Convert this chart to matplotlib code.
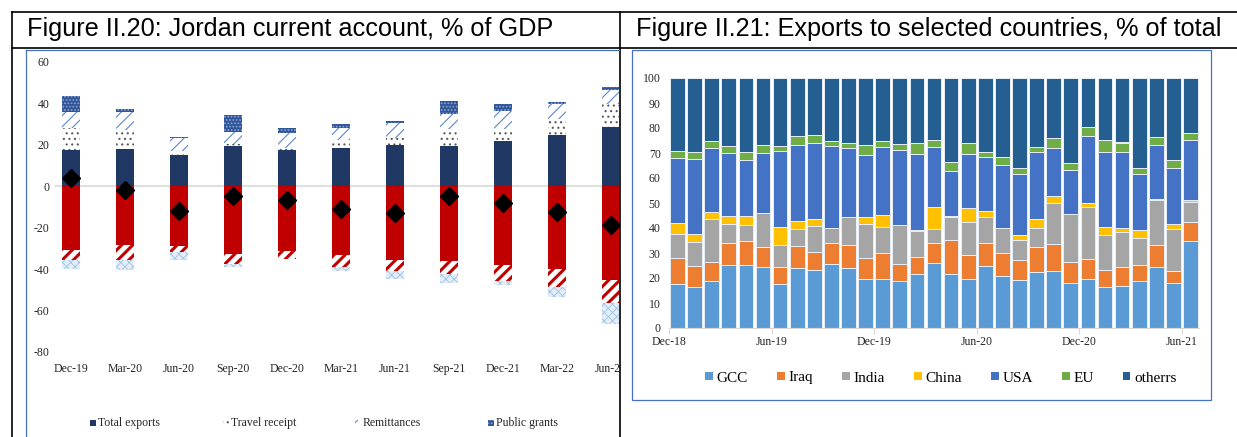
import numpy as np
import matplotlib.pyplot as plt
from matplotlib.patches import Rectangle, Patch
from matplotlib.lines import Line2D

W, H = 1237, 437
plt.rcParams['font.family'] = ['Liberation Serif', 'DejaVu Serif']
plt.rcParams['axes.unicode_minus'] = False
plt.rcParams['hatch.linewidth'] = 0.8

# ---- Figure II.20 data (% of GDP) ----
quarters = ["Dec-19", "Mar-20", "Jun-20", "Sep-20", "Dec-20", "Mar-21",
            "Jun-21", "Sep-21", "Dec-21", "Mar-22", "Jun-22"]
total_exports = [17.4, 18.0, 15.1, 19.5, 17.4, 18.7, 20.1, 19.3, 21.9, 25.0, 28.7]
travel_receipt = [10.9, 9.0, 2.0, 1.1, 1.3, 3.5, 3.4, 8.5, 5.6, 7.7, 11.2]
remittances = [7.6, 8.9, 6.0, 5.6, 7.1, 6.1, 7.1, 7.2, 8.7, 7.2, 6.5]
public_grants = [7.6, 1.6, 0.6, 8.4, 2.5, 1.7, 1.0, 6.4, 3.7, 0.8, 1.3]
imports = [-30.6, -28.5, -28.8, -32.5, -31.2, -33.0, -35.4, -36.1, -38.2, -40.1, -45.4]
services_payments = [-4.8, -7.2, -2.9, -4.9, -3.7, -6.0, -5.5, -6.2, -7.3, -8.7, -11.0]
income_payments = [-4.4, -4.6, -3.7, -1.6, -0.3, -2.1, -3.9, -4.2, -2.3, -4.7, -9.9]
current_account = [4.0, -1.9, -11.9, -4.7, -6.8, -10.8, -13.0, -4.7, -7.9, -12.4, -18.8]

# ---- Figure II.21 data (% of total exports) ----
months = ["Dec-18", "Jun-19", "Dec-19", "Jun-20", "Dec-20", "Jun-21"]
gcc = [17.7, 16.6, 18.8, 25.4, 25.4, 24.4, 17.7, 24.0, 23.3, 25.7, 24.0, 19.6, 19.6, 18.8, 21.6, 26.0,
       21.8, 19.6, 25.0, 21.0, 19.3, 22.3, 23.0, 18.2, 19.8, 16.6, 17.0, 19.0, 24.4, 18.0, 34.8]
iraq = [10.2, 8.3, 7.8, 8.6, 9.5, 8.0, 6.7, 8.9, 7.2, 8.3, 9.3, 8.4, 10.6, 6.7, 6.8, 8.2,
        13.5, 9.6, 9.1, 9.2, 8.0, 10.0, 10.8, 8.4, 7.9, 6.8, 7.3, 6.2, 8.8, 5.0, 7.6]
india = [9.8, 9.7, 17.0, 7.7, 6.4, 13.6, 8.8, 6.9, 10.5, 6.0, 11.2, 13.8, 10.4, 15.7, 10.6, 5.3,
         9.3, 13.2, 10.5, 9.7, 8.0, 7.7, 16.2, 19.0, 20.6, 13.8, 14.3, 11.0, 18.0, 16.6, 8.0]
china = [4.3, 2.9, 3.0, 3.1, 3.7, 0.2, 7.3, 2.9, 2.7, 0.1, 0.1, 2.8, 4.7, 0.1, 0.3, 9.1,
         0.1, 5.6, 2.1, 0.3, 2.0, 3.6, 3.0, 0.1, 1.9, 3.4, 1.6, 3.1, 0.5, 2.1, 0.7]
usa = [26.2, 30.1, 25.4, 25.4, 22.4, 24.0, 30.2, 30.4, 30.3, 32.7, 27.5, 24.7, 27.1, 30.0, 30.5, 24.0,
       18.2, 21.8, 21.7, 25.1, 24.4, 26.8, 19.2, 17.6, 26.8, 30.0, 30.1, 22.3, 21.5, 22.3, 24.2]
eu = [2.7, 3.0, 3.0, 2.8, 3.1, 3.0, 2.1, 3.6, 3.2, 1.9, 2.0, 4.0, 2.6, 2.3, 4.2, 2.7,
      3.7, 4.2, 2.1, 3.0, 2.2, 2.0, 3.8, 2.9, 3.4, 4.7, 3.9, 2.6, 3.2, 3.3, 2.9]
others = [29.1, 29.4, 25.0, 27.0, 29.5, 26.8, 27.2, 23.3, 22.8, 25.3, 26.0, 26.7, 25.0, 26.4, 26.0, 24.7,
          33.4, 26.0, 29.5, 31.7, 36.1, 27.6, 24.0, 33.8, 19.6, 24.7, 25.8, 35.8, 23.6, 32.7, 21.8]


def fx(x):
    return x / W


def fy(y):
    return 1 - y / H


def hatch_lw(patches, lw):
    for p in patches:
        if hasattr(p, 'set_hatch_linewidth'):
            p.set_hatch_linewidth(lw)


fig = plt.figure(figsize=(W / 100, H / 100), dpi=100)

# ================= left chart =================
axL = fig.add_axes([fx(55), fy(352), fx(619) - fx(55), fy(62) - fy(352)])
xl = np.arange(len(quarters))
bw = 0.34
pos_styles = [
    (total_exports, dict(facecolor='#1F3864', edgecolor='#1F3864'), None),
    (travel_receipt, dict(facecolor='white', edgecolor='#595959', hatch='...'), None),
    (remittances, dict(facecolor='white', edgecolor='#5B86D0', hatch='///'), 0.8),
    (public_grants, dict(facecolor='#2F5597', edgecolor='#8FAADC', hatch='.....'), None),
]
base = np.zeros(len(quarters))
for vals, st, hl in pos_styles:
    bars = axL.bar(xl, vals, bw, bottom=base, linewidth=0, **st)
    if hl:
        hatch_lw(bars.patches, hl)
    base += np.array(vals)

neg_styles = [
    (imports, dict(facecolor='#C00000', edgecolor='#C00000'), None),
    (services_payments, dict(facecolor='white', edgecolor='#C00000', hatch='///'), 2.2),
    (income_payments, dict(facecolor='#E3EEF8', edgecolor='#9DC3E6', hatch='xxxx'), 0.6),
]
base = np.zeros(len(quarters))
for vals, st, hl in neg_styles:
    bars = axL.bar(xl, vals, bw, bottom=base, linewidth=0, **st)
    if hl:
        hatch_lw(bars.patches, hl)
    base += np.array(vals)

axL.axhline(0, color='#D9D9D9', lw=1.2, zorder=0.5)
axL.plot(xl, current_account, 'D', color='black', ms=9, ls='none', zorder=5)
axL.set_xlim(-(71 - 55) / 54, (619 - 71) / 54)
axL.set_ylim(-80, 60)
axL.set_yticks(np.arange(-80, 61, 20))
axL.set_xticks(xl)
axL.set_xticklabels(quarters)
axL.tick_params(axis='both', length=0, labelsize=8.5, colors='#262626')
axL.tick_params(axis='y', pad=4)
axL.tick_params(axis='x', pad=8)
for s in axL.spines.values():
    s.set_visible(False)

# left legend (manual squares)
leg_items = [(93, 'Total exports', pos_styles[0][1]),
             (226, 'Travel receipt', pos_styles[1][1]),
             (358, 'Remittances', pos_styles[2][1]),
             (491, 'Public grants', pos_styles[3][1])]
for xm, lab, st in leg_items:
    fig.add_artist(Rectangle((fx(xm - 3), fy(426)), 6 / W, 6 / H, transform=fig.transFigure,
                             linewidth=0, **st))
    fig.text(fx(xm + 5), fy(423), lab, fontsize=8.5, va='center', ha='left', color='#262626')

# ================= right chart =================
axR = fig.add_axes([fx(669), fy(328), fx(1199) - fx(669), fy(78) - fy(328)])
xr = np.arange(len(gcc))
series = [('GCC', gcc, '#5B9BD5'), ('Iraq', iraq, '#ED7D31'), ('India', india, '#A5A5A5'),
          ('China', china, '#FFC000'), ('USA', usa, '#4472C4'), ('EU', eu, '#70AD47'),
          ('otherrs', others, '#255E91')]
base = np.zeros(len(gcc))
handles = []
for name, vals, col in series:
    axR.bar(xr, vals, 0.86, bottom=base, color=col, edgecolor='#E8EEF7', linewidth=0.7)
    base += np.array(vals)
    handles.append(Patch(facecolor=col, label=name))
axR.set_xlim(-0.5, len(gcc) - 0.5)
axR.set_ylim(0, 100)
axR.set_yticks(np.arange(0, 101, 10))
axR.set_xticks(np.arange(0, len(gcc), 6) - 0.5)
axR.set_xticklabels(months)
axR.tick_params(axis='y', length=0, pad=6, labelsize=8.5, colors='#262626')
axR.tick_params(axis='x', length=4, pad=2, labelsize=8.5, colors='#262626')
axR.tick_params(axis='x', color='#D9D9D9')
for k, s in axR.spines.items():
    s.set_visible(k == 'bottom')
axR.spines['bottom'].set_color('#D9D9D9')
fig.legend(handles=handles, loc='center', bbox_to_anchor=(fx(941), fy(378)),
           bbox_transform=fig.transFigure, ncol=7, frameon=False, fontsize=11,
           handlelength=0.5, handleheight=0.5, handletextpad=0.25, columnspacing=1.9)

# ================= table frame & titles =================
fig.add_artist(Rectangle((fx(620), 0), fx(632) - fx(620), fy(49), transform=fig.transFigure,
                         facecolor='white', edgecolor='none', zorder=3))
blk = dict(color='black', lw=1.2, transform=fig.transFigure, zorder=4)
fig.add_artist(Line2D([fx(12), 1], [fy(12), fy(12)], **blk))
fig.add_artist(Line2D([fx(12), 1], [fy(48), fy(48)], **blk))
fig.add_artist(Line2D([fx(12), fx(12)], [fy(12), 0], **blk))
fig.add_artist(Line2D([fx(620), fx(620)], [fy(12), 0], **blk))
blu = dict(color='#4472C4', lw=0.9, transform=fig.transFigure, zorder=4)
fig.add_artist(Line2D([fx(26), fx(26)], [fy(50), 0], **blu))
fig.add_artist(Line2D([fx(26), fx(619)], [fy(50), fy(50)], **blu))
fig.add_artist(Rectangle((fx(632), fy(400)), fx(1211) - fx(632), fy(50) - fy(400),
                         transform=fig.transFigure, fill=False, edgecolor='#4472C4', lw=0.9, zorder=4))

fig.text(fx(27), fy(29), 'Figure II.20: Jordan current account, % of GDP', fontsize=18.2,
         family='Liberation Sans', va='center', ha='left')
fig.text(fx(636), fy(29), 'Figure II.21: Exports to selected countries, % of total', fontsize=18.2,
         family='Liberation Sans', va='center', ha='left')

fig.savefig('out.png', dpi=100)
